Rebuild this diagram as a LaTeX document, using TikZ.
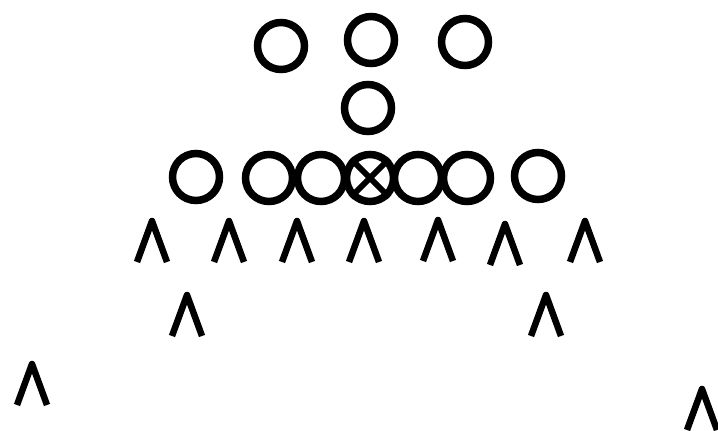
\documentclass[tikz,border=0pt]{standalone}
\begin{document}
\begin{tikzpicture}[x=1pt,y=-1pt,
  player/.style={circle,draw=black,line width=7.5pt,minimum size=47pt,inner sep=0pt},
  chev/.pic={\draw[line width=6.5pt,line join=round,line cap=butt] (-15,41) -- (0,0) -- (15,41);}]
\useasboundingbox (0,0) rectangle (718,431);
\begin{scope}
\clip (0,0) rectangle (718,431);
% backfield
\node[player] (p1) at (281,46) {};
\node[player] (p2) at (371,40) {};
\node[player] (p3) at (465,42) {};
\node[player] (qb) at (368,108) {};
% line
\node[player] (l1) at (196,177) {};
\node[player] (l2) at (269,178) {};
\node[player] (l3) at (321,178) {};
\node[player] (c) at (370,178) {};
\node[player] (l5) at (418,178) {};
\node[player] (l6) at (467,178) {};
\node[player] (l7) at (538,176) {};
\draw[line width=6pt] (c.north west) -- (c.south east) (c.north east) -- (c.south west);
% defense
\pic at (152,221) {chev};
\pic at (229,221) {chev};
\pic at (297,221) {chev};
\pic at (364,221) {chev};
\pic at (438,220) {chev};
\pic at (505,224) {chev};
\pic at (585,221) {chev};
\pic at (187,295) {chev};
\pic at (546,295) {chev};
\pic at (32,364) {chev};
\pic at (702,389) {chev};
\end{scope}
\end{tikzpicture}
\end{document}
